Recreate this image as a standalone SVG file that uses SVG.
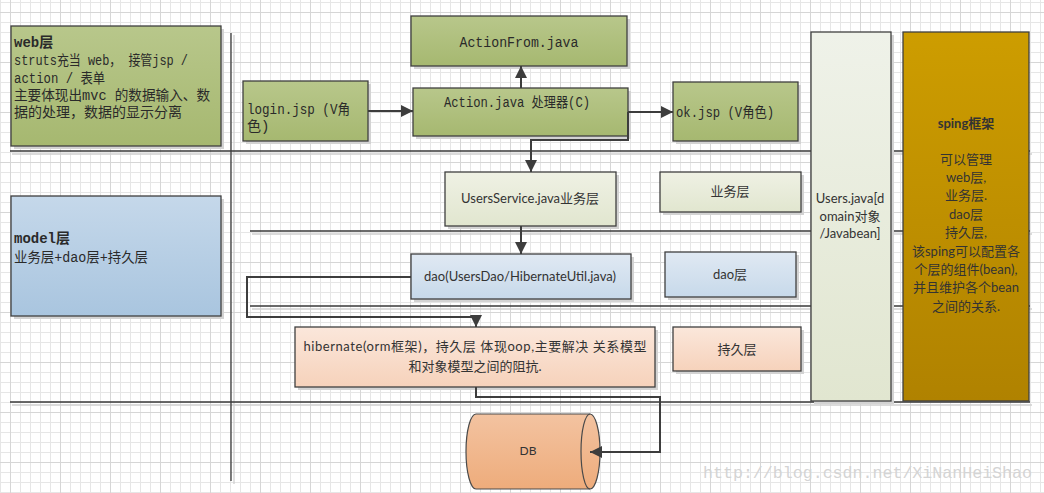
<svg xmlns="http://www.w3.org/2000/svg" width="1044" height="493" viewBox="0 0 1044 493">
<style>
.box{stroke:#3f3f3f;stroke-width:1.3}
.sh{fill:#d3d3d3}
.mono{font-family:"Liberation Mono","Noto Sans CJK SC",monospace;font-size:14px;fill:#2a2a2a}
.sans{font-family:Lato,"Noto Sans CJK SC",sans-serif;font-size:13px;fill:#333}
.b{font-weight:bold}
.mid{text-anchor:middle}
.sep{stroke:#3a3a3a;stroke-width:1.3;fill:none}
.seps{stroke:#d0d0d0;stroke-width:1.3;fill:none}
.conn{stroke:#3d3d3d;stroke-width:2;fill:none}
</style>
<defs>
<pattern id="gmin" x="10" y="2" width="10" height="10" patternUnits="userSpaceOnUse"><path d="M0.5,0V10M0,0.5H10" stroke="#e6e6e6" stroke-width="1" fill="none"/></pattern>
<pattern id="gmaj" x="10" y="12" width="50" height="50" patternUnits="userSpaceOnUse"><path d="M0.5,0V50M0,0.5H50" stroke="#d6d6d6" stroke-width="1" fill="none"/></pattern>
<linearGradient id="gGreen" x1="0" y1="0" x2="0" y2="1"><stop offset="0" stop-color="#b8c78b"/><stop offset="1" stop-color="#a6b870"/></linearGradient>
<linearGradient id="gLight" x1="0" y1="0" x2="0" y2="1"><stop offset="0" stop-color="#eff1e4"/><stop offset="1" stop-color="#e1e6cf"/></linearGradient>
<linearGradient id="gBlue" x1="0" y1="0" x2="0" y2="1"><stop offset="0" stop-color="#e0e9f3"/><stop offset="1" stop-color="#c7d9ea"/></linearGradient>
<linearGradient id="gModel" x1="0" y1="0" x2="0" y2="1"><stop offset="0" stop-color="#c5d8ea"/><stop offset="1" stop-color="#a9c5df"/></linearGradient>
<linearGradient id="gPeach" x1="0" y1="0" x2="0" y2="1"><stop offset="0" stop-color="#fbe7db"/><stop offset="1" stop-color="#f6d2bb"/></linearGradient>
<linearGradient id="gUsers" x1="0" y1="0" x2="0" y2="1"><stop offset="0" stop-color="#eff2e9"/><stop offset="1" stop-color="#e1e6d0"/></linearGradient>
<linearGradient id="gGold" x1="0" y1="0" x2="0" y2="1"><stop offset="0" stop-color="#cd9d00"/><stop offset="1" stop-color="#b08200"/></linearGradient>
<linearGradient id="gDB" x1="0" y1="0" x2="0" y2="1"><stop offset="0" stop-color="#f3c3a1"/><stop offset="1" stop-color="#eeac7b"/></linearGradient>
<marker id="arr" markerUnits="userSpaceOnUse" markerWidth="14" markerHeight="14" refX="12" refY="6" orient="auto"><path d="M0,0L12,6L0,12Z" fill="#3d3d3d"/></marker>
</defs>
<rect width="1044" height="493" fill="#ffffff"/>
<rect width="1044" height="493" fill="url(#gmin)"/>
<rect width="1044" height="493" fill="url(#gmaj)"/>

<g id="separators">
<path class="seps" d="M12,154H1032M252,234H1032M252,309H1032M12,405H1032M234,35V484"/>
<path class="sep" d="M10,151H1030M250,231H1030M250,306H1030M10,402H1030M231,33V481"/>
</g>

<g id="web">
<rect class="sh" x="14" y="29" width="210" height="120"/>
<rect class="box" x="11" y="26" width="210" height="120" fill="url(#gGreen)"/>
<text class="mono b" x="14" y="47">web层</text>
<text class="mono" x="14" y="65" textLength="174" lengthAdjust="spacingAndGlyphs">struts充当 web， 接管jsp /</text>
<text class="mono" x="14" y="83" textLength="91" lengthAdjust="spacingAndGlyphs">action / 表单</text>
<text class="mono" x="14" y="100" textLength="196" lengthAdjust="spacingAndGlyphs">主要体现出mvc 的数据输入、数</text>
<text class="mono" x="14" y="117">据的处理，数据的显示分离</text>
</g>

<g id="model">
<rect class="sh" x="14" y="199" width="210" height="120"/>
<rect class="box" x="11" y="196" width="210" height="120" fill="url(#gModel)"/>
<text class="mono b" x="14" y="243">model层</text>
<text class="mono" x="14" y="262" textLength="134" lengthAdjust="spacingAndGlyphs">业务层+dao层+持久层</text>
</g>

<g id="login">
<rect class="sh" x="246" y="84" width="125" height="60"/>
<rect class="box" x="243" y="81" width="125" height="60" fill="url(#gGreen)"/>
<text class="mono" x="247" y="114" textLength="103" lengthAdjust="spacingAndGlyphs">login.jsp  (V角</text>
<text class="mono" x="247" y="131">色)</text>
</g>

<g id="actionform">
<rect class="sh" x="414" y="19" width="216" height="50"/>
<rect class="box" x="411" y="16" width="216" height="50" fill="url(#gGreen)"/>
<text class="mono mid" x="519" y="47" textLength="119" lengthAdjust="spacingAndGlyphs">ActionFrom.java</text>
</g>

<g id="action">
<rect class="sh" x="416" y="91" width="215" height="48"/>
<rect class="box" x="413" y="88" width="215" height="48" fill="url(#gGreen)"/>
<text class="mono mid" x="517" y="107" textLength="146" lengthAdjust="spacingAndGlyphs">Action.java 处理器(C)</text>
</g>

<g id="okjsp">
<rect class="sh" x="676" y="85" width="125" height="59"/>
<rect class="box" x="673" y="82" width="125" height="59" fill="url(#gGreen)"/>
<text class="mono" x="676" y="117" textLength="98" lengthAdjust="spacingAndGlyphs">ok.jsp (V角色)</text>
</g>

<g id="usersservice">
<rect class="sh" x="448" y="175" width="171" height="54"/>
<rect class="box" x="445" y="172" width="171" height="54" fill="url(#gLight)"/>
<text class="sans mid" x="530" y="203">UsersService.java业务层</text>
</g>

<g id="bizlayer">
<rect class="sh" x="663" y="175" width="141" height="40"/>
<rect class="box" x="660" y="172" width="141" height="40" fill="url(#gLight)"/>
<text class="sans mid" x="730" y="196">业务层</text>
</g>

<g id="dao">
<rect class="sh" x="414" y="257" width="220" height="45"/>
<rect class="box" x="411" y="254" width="220" height="45" fill="url(#gBlue)"/>
<text class="sans mid" x="520" y="281">dao(UsersDao/HibernateUtil.java)</text>
</g>

<g id="daolayer">
<rect class="sh" x="668" y="255" width="131" height="45"/>
<rect class="box" x="665" y="252" width="131" height="45" fill="url(#gBlue)"/>
<text class="sans mid" x="730" y="279">dao层</text>
</g>

<g id="hibernate">
<rect class="sh" x="298" y="330" width="360" height="60"/>
<rect class="box" x="295" y="327" width="360" height="60" fill="url(#gPeach)"/>
<text class="sans mid" x="475" y="351" textLength="343" lengthAdjust="spacing">hibernate(orm框架)，持久层 体现oop,主要解决 关系模型</text>
<text class="sans mid" x="475" y="371">和对象模型之间的阻抗.</text>
</g>

<g id="persistlayer">
<rect class="sh" x="676" y="330" width="128" height="44"/>
<rect class="box" x="673" y="327" width="128" height="44" fill="url(#gPeach)"/>
<text class="sans mid" x="737" y="354">持久层</text>
</g>

<g id="users">
<rect class="sh" x="814" y="35" width="80" height="369"/>
<rect class="box" x="811" y="32" width="80" height="369" fill="url(#gUsers)"/>
<text class="sans mid" x="850" y="203">Users.java[d</text>
<text class="sans mid" x="850" y="221">omain对象</text>
<text class="sans mid" x="850" y="238">/Javabean]</text>
</g>

<g id="spring">
<rect class="box" x="903" y="32" width="126" height="369" fill="url(#gGold)"/>
<text class="sans mid b" x="966" y="128">sping框架</text>
<text class="sans mid" x="966" y="164">可以管理</text>
<text class="sans mid" x="966" y="182">web层,</text>
<text class="sans mid" x="966" y="200">业务层.</text>
<text class="sans mid" x="966" y="219">dao层</text>
<text class="sans mid" x="966" y="237">持久层,</text>
<text class="sans mid" x="966" y="256">该sping可以配置各</text>
<text class="sans mid" x="966" y="274">个层的组件(bean),</text>
<text class="sans mid" x="966" y="292">并且维护各个bean</text>
<text class="sans mid" x="966" y="311">之间的关系.</text>
</g>

<g id="db">
<path d="M476,414H590A10,37.5 0 0 1 590,489H476A10,37.5 0 0 1 476,414Z" fill="url(#gDB)" stroke="#4a4a4a" stroke-width="1.2"/>
<path d="M590,414A9,37.5 0 0 0 590,489" fill="none" stroke="#4a4a4a" stroke-width="1.2"/>
<text class="sans mid" x="528" y="455" style="font-size:12px">DB</text>
</g>

<g id="connectors">
<path class="conn" d="M368,111H413" marker-end="url(#arr)"/>
<path class="conn" d="M521,88V66" marker-end="url(#arr)"/>
<path class="conn" d="M628,112H673" marker-end="url(#arr)"/>
<path class="conn" d="M628,112V140H531V172" marker-end="url(#arr)"/>
<path class="conn" d="M521,226V254" marker-end="url(#arr)"/>
<path class="conn" d="M411,277H247V317H476V327" marker-end="url(#arr)"/>
<path class="conn" d="M476,387V397H660V452H590" marker-end="url(#arr)"/>
</g>

<text x="703" y="478" textLength="329" lengthAdjust="spacingAndGlyphs" style="font-family:'Liberation Mono','Noto Sans CJK SC',monospace;font-size:17px;fill:#d4d4d4">http://blog.csdn.net/XiNanHeiShao</text>
</svg>
